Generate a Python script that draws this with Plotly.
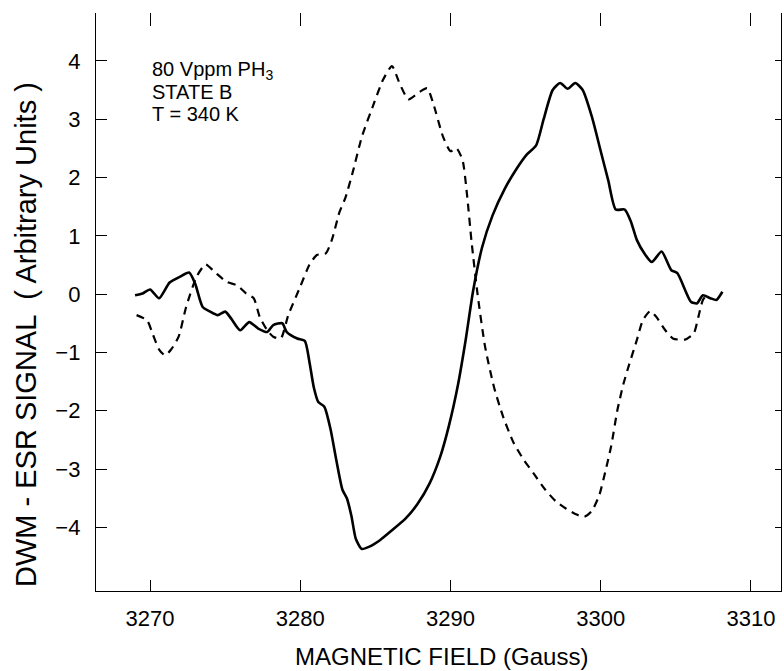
import plotly.graph_objects as go

solid_x = [3269.0, 3269.5, 3270.0, 3270.6, 3271.3, 3272.0, 3272.6, 3273.0, 3273.5, 3274.0,
           3274.5, 3275.0, 3275.4, 3276.0, 3276.6, 3277.2, 3277.8, 3278.2, 3278.8, 3279.1,
           3279.8, 3280.3, 3280.6, 3280.9, 3281.2, 3281.6, 3282.0, 3282.4, 3282.8, 3283.1,
           3283.4, 3283.7, 3284.1, 3284.6, 3285.3, 3286.1, 3287.0, 3287.8, 3288.6, 3289.3,
           3289.9, 3290.5, 3291.0, 3291.5, 3292.1, 3292.8, 3293.6, 3294.4, 3295.1, 3295.7,
           3296.2, 3296.8, 3297.3, 3297.8, 3298.3, 3298.8, 3299.4, 3300.0, 3300.5, 3301.0,
           3301.6, 3302.0, 3302.4, 3302.9, 3303.4, 3304.05, 3304.7, 3305.1, 3306.0, 3306.4,
           3306.8, 3307.3, 3307.7, 3308.1]
solid_y = [-0.02, 0.01, 0.08, -0.07, 0.20, 0.30, 0.37, 0.18, -0.22, -0.30,
           -0.36, -0.30, -0.42, -0.62, -0.48, -0.59, -0.65, -0.53, -0.50, -0.65,
           -0.76, -0.80, -1.15, -1.60, -1.85, -1.93, -2.30, -2.85, -3.35, -3.50,
           -3.80, -4.20, -4.37, -4.33, -4.22, -4.05, -3.85, -3.60, -3.25, -2.80,
           -2.25, -1.55, -0.80, 0.05, 0.80, 1.35, 1.80, 2.15, 2.40, 2.55,
           3.00, 3.50, 3.62, 3.52, 3.62, 3.50, 3.05, 2.45, 1.95, 1.45,
           1.45, 1.25, 0.93, 0.70, 0.55, 0.73, 0.41, 0.36, -0.13, -0.16,
           -0.02, -0.07, -0.10, 0.04]

dash_x = [3269.1, 3269.8, 3270.2, 3270.6, 3271.0, 3271.4, 3271.9, 3272.4, 3273.1, 3273.7,
          3274.3, 3275.1, 3275.8, 3276.4, 3276.9, 3277.3, 3277.8, 3278.2, 3278.7, 3279.2,
          3280.0, 3280.6, 3281.1, 3281.7, 3282.1, 3282.6, 3283.0, 3283.5, 3284.1, 3284.9,
          3285.5, 3286.1, 3286.6, 3287.2, 3287.95, 3288.45, 3288.85, 3289.5, 3290.0, 3290.4,
          3290.8, 3291.1, 3291.4, 3291.8, 3292.3, 3292.9, 3293.5, 3294.2, 3294.9, 3295.6,
          3296.3, 3297.0, 3297.7, 3298.4, 3298.9, 3299.4, 3299.9, 3300.3, 3300.7, 3301.1,
          3301.5, 3301.9, 3302.4, 3302.8, 3303.3, 3303.7, 3304.3, 3304.8, 3305.6, 3306.2,
          3306.5, 3306.8, 3307.1]
dash_y = [-0.36, -0.45, -0.70, -0.95, -1.05, -0.95, -0.73, -0.22, 0.30, 0.51,
          0.38, 0.21, 0.15, 0.01, -0.07, -0.39, -0.62, -0.73, -0.76, -0.36,
          0.13, 0.50, 0.67, 0.70, 0.93, 1.40, 1.65, 2.10, 2.70, 3.27,
          3.67, 3.91, 3.62, 3.34, 3.47, 3.53, 3.27, 2.70, 2.45, 2.50,
          2.30, 1.70, 0.90, 0.00, -0.90, -1.60, -2.10, -2.55, -2.85, -3.10,
          -3.35, -3.55, -3.68, -3.78, -3.82, -3.72, -3.45, -3.05, -2.60, -2.00,
          -1.55, -1.20, -0.79, -0.45, -0.29, -0.39, -0.62, -0.76, -0.78, -0.67,
          -0.39, -0.10, 0.0]

x_ticks = [3270, 3280, 3290, 3300, 3310]
y_ticks = [-4, -3, -2, -1, 0, 1, 2, 3, 4]
note_lines = ["80 Vppm PH<sub>3</sub>", "STATE B", "T = 340 K"]
x_title = "MAGNETIC FIELD (Gauss)"
y_title = "DWM - ESR SIGNAL  ( Arbitrary Units )"

font = "Liberation Sans, Arial, Helvetica, sans-serif"

L, R, T, B = 96, 781, 13, 591
W, H = 784, 671
xr = [3266.4, 3312.0]
yr = [-5.09, 4.82]
pw, ph = R - L, B - T


def px_to_paper_x(px):
    return (px - L) / pw


def px_to_paper_y(py):
    return (B - py) / ph


fig = go.Figure()
fig.add_trace(go.Scatter(x=solid_x, y=solid_y, mode="lines",
                         line=dict(color="black", width=2.6, shape="spline", smoothing=0.6),
                         showlegend=False))
fig.add_trace(go.Scatter(x=dash_x, y=dash_y, mode="lines",
                         line=dict(color="black", width=2.2, dash="8px,6px", shape="spline", smoothing=0.6),
                         showlegend=False))
# invisible trace so the mirrored top/right axes are drawn
fig.add_trace(go.Scatter(x=[3270], y=[0], xaxis="x2", yaxis="y2", mode="markers",
                         marker=dict(opacity=0), showlegend=False, hoverinfo="skip"))

fig.update_layout(
    width=W, height=H,
    margin=dict(l=L, r=W - R, t=T, b=H - B, pad=0),
    paper_bgcolor="white", plot_bgcolor="white",
    font=dict(family=font, color="black"),
    xaxis=dict(range=xr, tickmode="array", tickvals=x_ticks,
               ticks="inside", ticklen=11, tickwidth=1.3, tickcolor="black",
               showline=True, linecolor="black", linewidth=1.4,
               showgrid=False, zeroline=False,
               tickfont=dict(size=22, family=font), ticklabelstandoff=7),
    xaxis2=dict(range=xr, overlaying="x", side="top", tickmode="array", tickvals=x_ticks,
                ticks="inside", ticklen=13, tickwidth=1.3, tickcolor="black",
                showline=False, showgrid=False, zeroline=False, showticklabels=False),
    yaxis=dict(range=yr, tickmode="array", tickvals=y_ticks,
               ticks="inside", ticklen=11, tickwidth=1.3, tickcolor="black",
               showline=True, linecolor="black", linewidth=1.4,
               showgrid=False, zeroline=False,
               tickfont=dict(size=22, family=font), ticklabelstandoff=10),
    yaxis2=dict(range=yr, overlaying="y", side="right", tickmode="array", tickvals=y_ticks,
                ticks="inside", ticklen=6, tickwidth=1.3, tickcolor="black",
                showline=True, linecolor="black", linewidth=1.4,
                showgrid=False, zeroline=False, showticklabels=False),
)

# axis titles
fig.add_annotation(xref="paper", yref="paper", x=px_to_paper_x(441), y=px_to_paper_y(656),
                   xanchor="center", yanchor="middle", showarrow=False,
                   text=x_title, font=dict(size=24, family=font, color="black"))
fig.add_annotation(xref="paper", yref="paper", x=px_to_paper_x(26), y=px_to_paper_y(335),
                   xanchor="center", yanchor="middle", showarrow=False, textangle=-90,
                   text=y_title, font=dict(size=29, family=font, color="black"))

for i, line in enumerate(note_lines):
    top_px = 56 + i * 22.5
    fig.add_annotation(xref="paper", yref="paper", x=px_to_paper_x(150), y=px_to_paper_y(top_px),
                       xanchor="left", yanchor="top", align="left", showarrow=False,
                       text=line, font=dict(size=20, family=font, color="black"))

fig.write_html("out.html",
               config={"displayModeBar": False},
               post_script="document.body.style.margin='0px';document.body.style.overflow='hidden';")
